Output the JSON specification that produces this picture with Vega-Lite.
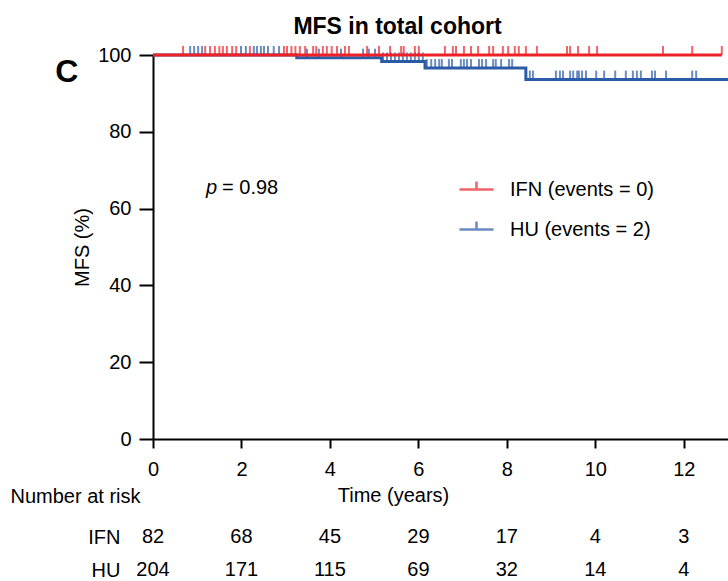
{
  "$schema": "https://vega.github.io/schema/vega-lite/v6.json",
  "width": 575,
  "height": 384,
  "autosize": {"type": "none"},
  "padding": {"left": 153, "top": 55, "right": 0, "bottom": 142},
  "background": "white",
  "config": {
    "font": "Liberation Sans",
    "view": {"stroke": null},
    "axis": {"grid": false, "domainColor": "black", "tickColor": "black", "labelColor": "black", "titleColor": "black", "labelFont": "Liberation Sans", "titleFont": "Liberation Sans"},
    "text": {"font": "Liberation Sans", "color": "black"}
  },
  "title": {"text": "MFS in total cohort", "fontSize": 23, "fontWeight": "bold", "anchor": "middle", "frame": "group", "dx": -43, "offset": -12, "baseline": "alphabetic", "color": "black", "font": "Liberation Sans"},
  "datasets": {
    "curves": [
      {"group": "HU", "time": 0, "surv": 100},
      {"group": "HU", "time": 3.25, "surv": 99.3},
      {"group": "HU", "time": 5.17, "surv": 98.3},
      {"group": "HU", "time": 6.15, "surv": 96.6},
      {"group": "HU", "time": 8.43, "surv": 93.6},
      {"group": "HU", "time": 13, "surv": 93.6},
      {"group": "IFN", "time": 0, "surv": 100},
      {"group": "IFN", "time": 12.86, "surv": 100}
    ],
    "censor": [
      {"group": "HU", "time": 0.84, "surv": 100}, {"group": "HU", "time": 0.93, "surv": 100}, {"group": "HU", "time": 1.02, "surv": 100}, {"group": "HU", "time": 1.11, "surv": 100},
      {"group": "HU", "time": 1.99, "surv": 100}, {"group": "HU", "time": 2.10, "surv": 100}, {"group": "HU", "time": 2.28, "surv": 100}, {"group": "HU", "time": 2.35, "surv": 100},
      {"group": "HU", "time": 2.44, "surv": 100}, {"group": "HU", "time": 2.51, "surv": 100}, {"group": "HU", "time": 2.60, "surv": 100}, {"group": "HU", "time": 2.73, "surv": 100},
      {"group": "HU", "time": 2.85, "surv": 100},
      {"group": "HU", "time": 3.48, "surv": 99.3}, {"group": "HU", "time": 3.75, "surv": 99.3}, {"group": "HU", "time": 4.25, "surv": 99.3}, {"group": "HU", "time": 4.75, "surv": 99.3},
      {"group": "HU", "time": 4.88, "surv": 99.3}, {"group": "HU", "time": 5.02, "surv": 99.3},
      {"group": "HU", "time": 5.20, "surv": 98.3}, {"group": "HU", "time": 5.29, "surv": 98.3}, {"group": "HU", "time": 5.38, "surv": 98.3}, {"group": "HU", "time": 5.47, "surv": 98.3},
      {"group": "HU", "time": 5.56, "surv": 98.3}, {"group": "HU", "time": 5.65, "surv": 98.3}, {"group": "HU", "time": 5.74, "surv": 98.3}, {"group": "HU", "time": 5.83, "surv": 98.3},
      {"group": "HU", "time": 5.92, "surv": 98.3}, {"group": "HU", "time": 6.01, "surv": 98.3}, {"group": "HU", "time": 6.10, "surv": 98.3},
      {"group": "HU", "time": 6.19, "surv": 96.6}, {"group": "HU", "time": 6.29, "surv": 96.6}, {"group": "HU", "time": 6.38, "surv": 96.6}, {"group": "HU", "time": 6.47, "surv": 96.6},
      {"group": "HU", "time": 6.53, "surv": 96.6}, {"group": "HU", "time": 6.69, "surv": 96.6}, {"group": "HU", "time": 6.76, "surv": 96.6}, {"group": "HU", "time": 6.96, "surv": 96.6},
      {"group": "HU", "time": 7.03, "surv": 96.6}, {"group": "HU", "time": 7.10, "surv": 96.6}, {"group": "HU", "time": 7.19, "surv": 96.6}, {"group": "HU", "time": 7.37, "surv": 96.6},
      {"group": "HU", "time": 7.44, "surv": 96.6}, {"group": "HU", "time": 7.53, "surv": 96.6}, {"group": "HU", "time": 7.69, "surv": 96.6}, {"group": "HU", "time": 7.75, "surv": 96.6},
      {"group": "HU", "time": 7.87, "surv": 96.6}, {"group": "HU", "time": 8.05, "surv": 96.6}, {"group": "HU", "time": 8.12, "surv": 96.6},
      {"group": "HU", "time": 8.52, "surv": 93.6}, {"group": "HU", "time": 8.59, "surv": 93.6}, {"group": "HU", "time": 9.11, "surv": 93.6}, {"group": "HU", "time": 9.20, "surv": 93.6},
      {"group": "HU", "time": 9.27, "surv": 93.6}, {"group": "HU", "time": 9.43, "surv": 93.6}, {"group": "HU", "time": 9.50, "surv": 93.6}, {"group": "HU", "time": 9.59, "surv": 93.6},
      {"group": "HU", "time": 9.63, "surv": 93.6}, {"group": "HU", "time": 9.70, "surv": 93.6}, {"group": "HU", "time": 9.79, "surv": 93.6}, {"group": "HU", "time": 10.02, "surv": 93.6},
      {"group": "HU", "time": 10.20, "surv": 93.6}, {"group": "HU", "time": 10.45, "surv": 93.6}, {"group": "HU", "time": 10.69, "surv": 93.6}, {"group": "HU", "time": 10.85, "surv": 93.6},
      {"group": "HU", "time": 10.94, "surv": 93.6}, {"group": "HU", "time": 11.03, "surv": 93.6}, {"group": "HU", "time": 11.28, "surv": 93.6}, {"group": "HU", "time": 11.35, "surv": 93.6},
      {"group": "HU", "time": 11.60, "surv": 93.6}, {"group": "HU", "time": 12.19, "surv": 93.6}, {"group": "HU", "time": 12.28, "surv": 93.6},
      {"group": "IFN", "time": 0.68, "surv": 100}, {"group": "IFN", "time": 1.18, "surv": 100}, {"group": "IFN", "time": 1.29, "surv": 100}, {"group": "IFN", "time": 1.40, "surv": 100},
      {"group": "IFN", "time": 1.50, "surv": 100}, {"group": "IFN", "time": 1.58, "surv": 100}, {"group": "IFN", "time": 1.67, "surv": 100}, {"group": "IFN", "time": 1.79, "surv": 100},
      {"group": "IFN", "time": 1.88, "surv": 100}, {"group": "IFN", "time": 2.19, "surv": 100}, {"group": "IFN", "time": 2.96, "surv": 100}, {"group": "IFN", "time": 3.03, "surv": 100},
      {"group": "IFN", "time": 3.13, "surv": 100}, {"group": "IFN", "time": 3.22, "surv": 100}, {"group": "IFN", "time": 3.32, "surv": 100}, {"group": "IFN", "time": 3.44, "surv": 100},
      {"group": "IFN", "time": 3.62, "surv": 100}, {"group": "IFN", "time": 3.69, "surv": 100}, {"group": "IFN", "time": 3.84, "surv": 100}, {"group": "IFN", "time": 3.93, "surv": 100},
      {"group": "IFN", "time": 4.04, "surv": 100}, {"group": "IFN", "time": 4.16, "surv": 100}, {"group": "IFN", "time": 4.34, "surv": 100}, {"group": "IFN", "time": 4.43, "surv": 100},
      {"group": "IFN", "time": 4.84, "surv": 100}, {"group": "IFN", "time": 5.11, "surv": 100}, {"group": "IFN", "time": 5.36, "surv": 100}, {"group": "IFN", "time": 5.61, "surv": 100},
      {"group": "IFN", "time": 5.67, "surv": 100}, {"group": "IFN", "time": 5.92, "surv": 100}, {"group": "IFN", "time": 6.01, "surv": 100}, {"group": "IFN", "time": 6.60, "surv": 100},
      {"group": "IFN", "time": 6.78, "surv": 100}, {"group": "IFN", "time": 6.85, "surv": 100}, {"group": "IFN", "time": 7.03, "surv": 100}, {"group": "IFN", "time": 7.19, "surv": 100},
      {"group": "IFN", "time": 7.35, "surv": 100}, {"group": "IFN", "time": 7.60, "surv": 100}, {"group": "IFN", "time": 7.69, "surv": 100}, {"group": "IFN", "time": 7.91, "surv": 100},
      {"group": "IFN", "time": 8.03, "surv": 100}, {"group": "IFN", "time": 8.18, "surv": 100}, {"group": "IFN", "time": 8.27, "surv": 100}, {"group": "IFN", "time": 8.43, "surv": 100},
      {"group": "IFN", "time": 8.68, "surv": 100}, {"group": "IFN", "time": 9.36, "surv": 100}, {"group": "IFN", "time": 9.43, "surv": 100}, {"group": "IFN", "time": 9.61, "surv": 100},
      {"group": "IFN", "time": 9.86, "surv": 100}, {"group": "IFN", "time": 10.04, "surv": 100}, {"group": "IFN", "time": 11.53, "surv": 100}, {"group": "IFN", "time": 12.19, "surv": 100},
      {"group": "IFN", "time": 12.86, "surv": 100}
    ],
    "risk": [
      {"group": "IFN", "time": 0, "n": 82}, {"group": "IFN", "time": 2, "n": 68}, {"group": "IFN", "time": 4, "n": 45}, {"group": "IFN", "time": 6, "n": 29},
      {"group": "IFN", "time": 8, "n": 17}, {"group": "IFN", "time": 10, "n": 4}, {"group": "IFN", "time": 12, "n": 3},
      {"group": "HU", "time": 0, "n": 204}, {"group": "HU", "time": 2, "n": 171}, {"group": "HU", "time": 4, "n": 115}, {"group": "HU", "time": 6, "n": 69},
      {"group": "HU", "time": 8, "n": 32}, {"group": "HU", "time": 10, "n": 14}, {"group": "HU", "time": 12, "n": 4}
    ]
  },
  "layer": [
    {
      "layer": [
        {
          "data": {"name": "curves"},
          "transform": [{"filter": "datum.group === 'HU'"}],
          "mark": {"type": "line", "interpolate": "step-after", "strokeWidth": 3, "clip": false},
          "encoding": {
            "x": {"field": "time", "type": "quantitative", "scale": {"domain": [0, 13], "nice": false, "zero": false},
              "axis": {"values": [0, 2, 4, 6, 8, 10, 12], "title": "Time (years)", "domainWidth": 2, "tickWidth": 2, "tickSize": 9, "labelFontSize": 20, "labelPadding": 11, "labelFlush": false, "titleFontSize": 20, "titleFontWeight": "normal", "titlePadding": 6, "titleX": 240, "titleAnchor": null, "titleAlign": "center"}},
            "y": {"field": "surv", "type": "quantitative", "scale": {"domain": [0, 100], "nice": false},
              "axis": {"values": [0, 20, 40, 60, 80, 100], "title": "MFS (%)", "domainWidth": 2, "tickWidth": 2, "tickSize": 14, "labelFontSize": 20, "labelPadding": 8, "titleFontSize": 20, "titleFontWeight": "normal", "titlePadding": 5}},
            "color": {"field": "group", "type": "nominal", "scale": {"domain": ["IFN", "HU"], "range": ["#EC2228", "#2C5BA8"]},
              "legend": {"orient": "none", "legendX": 305, "legendY": 116, "title": null, "padding": 0, "symbolType": "M-1,0H1M0,0V-0.47", "symbolSize": 1156, "symbolStrokeWidth": 2.5, "labelFontSize": 20, "labelColor": "black", "labelOffset": 15, "rowPadding": 11, "labelExpr": "datum.label === 'IFN' ? 'IFN (events = 0)' : 'HU (events = 2)'"}}
          }
        },
        {
          "data": {"name": "censor"},
          "transform": [{"filter": "datum.group === 'HU'"}],
          "mark": {"type": "tick", "orient": "vertical", "size": 9, "thickness": 2, "yOffset": -4.5, "clip": false},
          "encoding": {
            "x": {"field": "time", "type": "quantitative"},
            "y": {"field": "surv", "type": "quantitative"},
            "color": {"field": "group", "type": "nominal"}
          }
        },
        {
          "data": {"name": "curves"},
          "transform": [{"filter": "datum.group === 'IFN'"}],
          "mark": {"type": "line", "interpolate": "step-after", "strokeWidth": 3, "clip": false},
          "encoding": {
            "x": {"field": "time", "type": "quantitative"},
            "y": {"field": "surv", "type": "quantitative"},
            "color": {"field": "group", "type": "nominal"}
          }
        },
        {
          "data": {"name": "censor"},
          "transform": [{"filter": "datum.group === 'IFN'"}],
          "mark": {"type": "tick", "orient": "vertical", "size": 9, "thickness": 2, "yOffset": -4.5, "clip": false},
          "encoding": {
            "x": {"field": "time", "type": "quantitative"},
            "y": {"field": "surv", "type": "quantitative"},
            "color": {"field": "group", "type": "nominal"}
          }
        },
        {
          "data": {"values": [{"label": "p"}]},
          "mark": {"type": "text", "align": "left", "baseline": "middle", "fontSize": 20, "fontStyle": "italic"},
          "encoding": {"x": {"datum": 1.2}, "y": {"datum": 65.4}, "text": {"field": "label"}}
        },
        {
          "data": {"values": [{"label": "= 0.98"}]},
          "mark": {"type": "text", "align": "left", "baseline": "middle", "fontSize": 20, "dx": 16},
          "encoding": {"x": {"datum": 1.2}, "y": {"datum": 65.4}, "text": {"field": "label"}}
        },
        {
          "data": {"values": [{"label": "C"}]},
          "mark": {"type": "text", "align": "center", "baseline": "middle", "fontSize": 32, "fontWeight": "bold"},
          "encoding": {"x": {"datum": -1.95}, "y": {"datum": 95.6}, "text": {"field": "label"}}
        }
      ]
    },
    {
      "data": {"name": "risk"},
      "mark": {"type": "text", "align": "center", "baseline": "middle", "fontSize": 20},
      "encoding": {
        "x": {"field": "time", "type": "quantitative"},
        "y": {"field": "group", "type": "nominal", "scale": {"type": "point", "domain": ["IFN", "HU"], "range": [482, 515], "padding": 0},
          "axis": {"orient": "left", "domain": false, "ticks": false, "labelPadding": 33, "labelFontSize": 20, "title": "Number at risk", "titleAngle": 0, "titleAlign": "left", "titleBaseline": "middle", "titleX": -143, "titleY": 441, "titleFontSize": 20, "titleFontWeight": "normal"}},
        "text": {"field": "n", "type": "quantitative"}
      }
    }
  ],
  "resolve": {"scale": {"y": "independent"}, "axis": {"y": "independent"}}
}
